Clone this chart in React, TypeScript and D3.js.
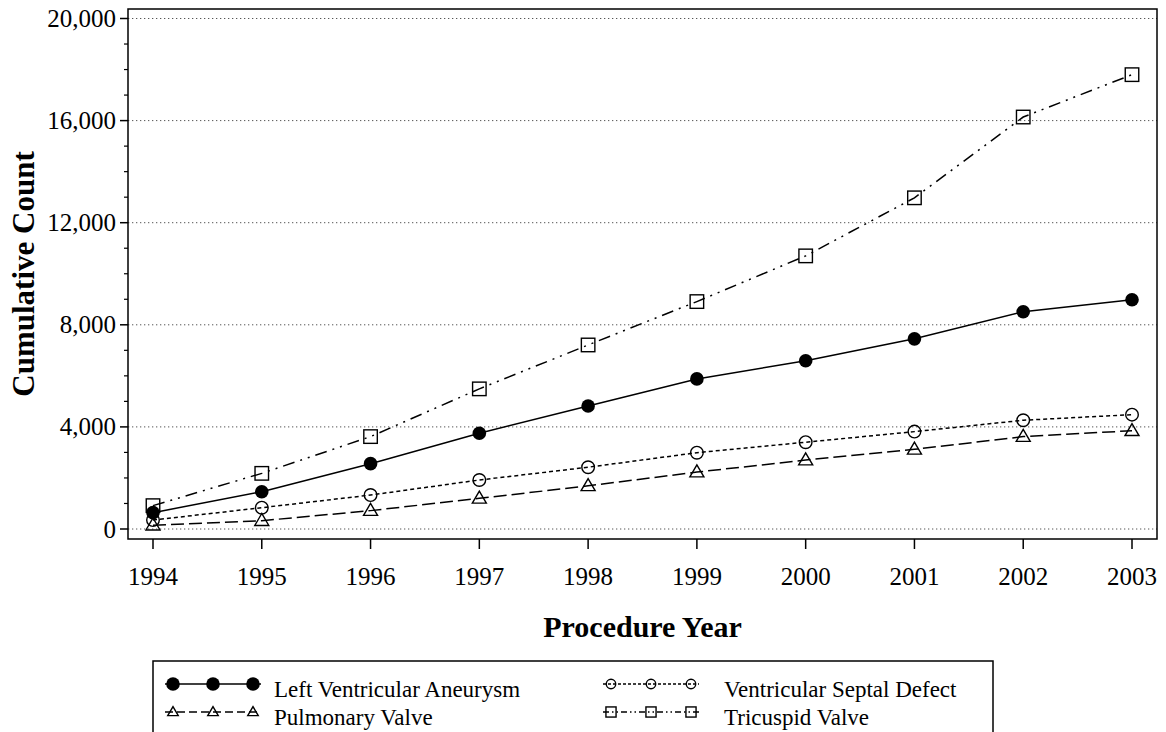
import React from "react";
import * as d3 from "d3";

const years = [1994, 1995, 1996, 1997, 1998, 1999, 2000, 2001, 2002, 2003];
const lva = [640, 1460, 2560, 3750, 4820, 5880, 6590, 7450, 8510, 8980];
const vsd = [350, 835, 1330, 1920, 2420, 2990, 3400, 3815, 4260, 4480];
const pv = [150, 325, 720, 1200, 1690, 2230, 2700, 3120, 3620, 3850];
const tv = [915, 2180, 3620, 5490, 7210, 8910, 10700, 12975, 16140, 17800];
const yTicks = [0, 4000, 8000, 12000, 16000, 20000];
const minorTicks = d3.range(0, 20001, 1000).filter((v) => v % 4000 !== 0);
const seriesNames = ["Left Ventricular Aneurysm", "Ventricular Septal Defect", "Pulmonary Valve", "Tricuspid Valve"];

const W = 1166, H = 732;
const L = 128, R = 1157, T = 9, B = 539;
const FONT = "'Liberation Serif', 'Times New Roman', Times, serif";

type Marker = "fcircle" | "ocircle" | "triangle" | "square";
const series: { name: string; values: number[]; dash: string; marker: Marker }[] = [
  { name: seriesNames[0], values: lva, dash: "none", marker: "fcircle" },
  { name: seriesNames[1], values: vsd, dash: "4,3", marker: "ocircle" },
  { name: seriesNames[2], values: pv, dash: "13,5", marker: "triangle" },
  { name: seriesNames[3], values: tv, dash: "12,6,2,6,2,6", marker: "square" },
];

function MarkerShape({ type, x, y, s = 1 }: { type: Marker; x: number; y: number; s?: number }) {
  const sw = 1.4;
  if (type === "fcircle") return <circle cx={x} cy={y} r={6.8 * s} fill="#000" />;
  if (type === "ocircle") return <circle cx={x} cy={y} r={6.3 * s} fill="none" stroke="#000" strokeWidth={sw} />;
  if (type === "triangle") {
    const h = 12 * s, w = 14 * s;
    const pts = `${x},${y - h * 0.6} ${x - w / 2},${y + h * 0.4} ${x + w / 2},${y + h * 0.4}`;
    return <polygon points={pts} fill="none" stroke="#000" strokeWidth={sw} />;
  }
  const a = 13.5 * s;
  return <rect x={x - a / 2} y={y - a / 2} width={a} height={a} fill="none" stroke="#000" strokeWidth={sw} />;
}

export default function App() {
  const x = d3.scaleLinear().domain([1994, 2003]).range([153, 1132]);
  const y = d3.scaleLinear().domain([0, 20000]).range([529, 18.5]);
  const line = d3.line<number>().x((_, i) => x(years[i])).y((d) => y(d));

  const legendRows = [
    { s: series[0], lx: 165, ly: 684, tx: 274 },
    { s: series[2], lx: 165, ly: 712, tx: 274 },
    { s: series[1], lx: 603, ly: 684, tx: 724 },
    { s: series[3], lx: 603, ly: 712, tx: 724 },
  ];

  return (
    <svg width={W} height={H} style={{ position: "absolute", left: 0, top: 0, background: "#fff", fontFamily: FONT }}>
      <rect x={0} y={0} width={W} height={H} fill="#fff" />
      {yTicks.map((t) => (
        <line key={"g" + t} x1={L} x2={R} y1={y(t)} y2={y(t)} stroke="#555" strokeWidth={1} strokeDasharray="1.3,2.7" />
      ))}
      <rect x={L} y={T} width={R - L} height={B - T} fill="none" stroke="#000" strokeWidth={1.5} />
      {yTicks.map((t) => (
        <g key={"yt" + t}>
          <line x1={L - 8} x2={L} y1={y(t)} y2={y(t)} stroke="#000" strokeWidth={1.5} />
          <text x={L - 12} y={y(t) + 8.5} textAnchor="end" fontSize={25}>{d3.format(",")(t)}</text>
        </g>
      ))}
      {minorTicks.map((t) => (
        <line key={"m" + t} x1={L - 4} x2={L} y1={y(t)} y2={y(t)} stroke="#000" strokeWidth={1.2} />
      ))}
      {years.map((yr) => (
        <g key={"xt" + yr}>
          <line x1={x(yr)} x2={x(yr)} y1={B} y2={B + 10} stroke="#000" strokeWidth={1.5} />
          <text x={x(yr)} y={585} textAnchor="middle" fontSize={25}>{yr}</text>
        </g>
      ))}
      <text x={(L + R) / 2} y={637} textAnchor="middle" fontSize={30} fontWeight="bold">Procedure Year</text>
      <text transform={`translate(34,${(T + B) / 2}) rotate(-90)`} textAnchor="middle" fontSize={31} fontWeight="bold">Cumulative Count</text>
      {series.map((s) => (
        <g key={s.name}>
          <path d={line(s.values) || ""} fill="none" stroke="#000" strokeWidth={1.5} strokeDasharray={s.dash} />
          {s.values.map((v, i) => (
            <MarkerShape key={i} type={s.marker} x={x(years[i])} y={y(v)} />
          ))}
        </g>
      ))}
      <rect x={153} y={661} width={840} height={90} fill="none" stroke="#000" strokeWidth={1.5} />
      {legendRows.map(({ s, lx, ly, tx }) => (
        <g key={"lg" + s.name}>
          <line x1={lx} x2={lx + 96} y1={ly} y2={ly} stroke="#000" strokeWidth={1.4} strokeDasharray={s.dash === "none" ? "none" : s.marker === "square" ? "6,3,1.5,3,1.5,3" : s.marker === "ocircle" ? "3,2" : "8,4"} />
          {[8, 48, 88].map((o) => (
            <MarkerShape key={o} type={s.marker} x={lx + o} y={ly} s={s.marker === "fcircle" ? 1 : 0.75} />
          ))}
          <text x={tx} y={ly + 13} fontSize={23}>{s.name}</text>
        </g>
      ))}
    </svg>
  );
}
